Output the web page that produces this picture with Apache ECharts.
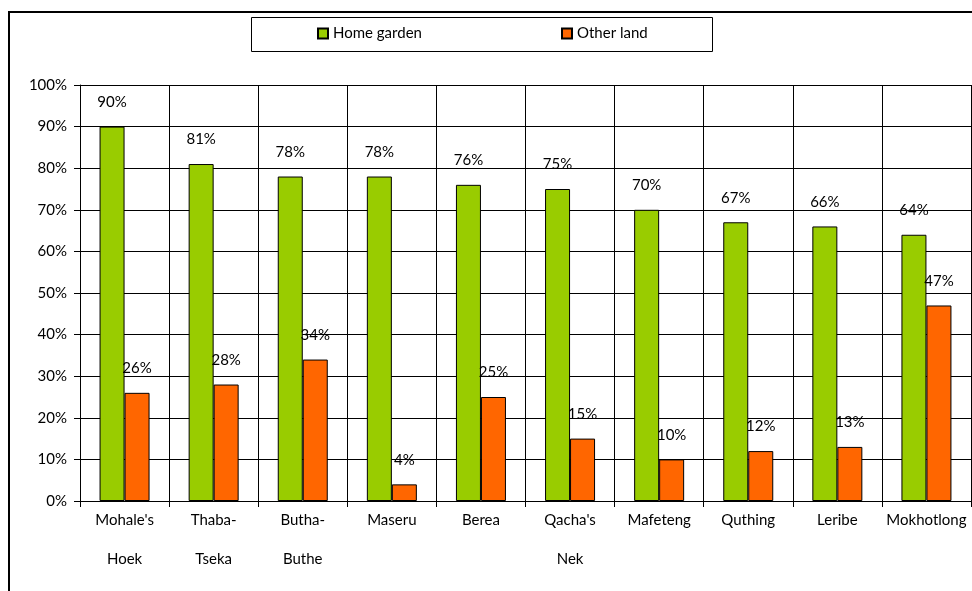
<!DOCTYPE html>
<html>
<head>
<meta charset="utf-8">
<script src="https://cdn.jsdelivr.net/npm/echarts@6/dist/echarts.min.js"></script>
<style>
  html, body { margin: 0; padding: 0; background: #fff; }
  #chart { width: 972px; height: 591px; }
</style>
</head>
<body>
<div id="chart"></div>
<script>
  // districts and shares
  const districts = ["Mohale's\nHoek", 'Thaba-\nTseka', 'Butha-\nButhe', 'Maseru', 'Berea', "Qacha's\nNek", 'Mafeteng', 'Quthing', 'Leribe', 'Mokhotlong']
  const homeGarden = [90, 81, 78, 78, 76, 75, 70, 67, 66, 64]
  const otherLand = [26, 28, 34, 4, 25, 15, 10, 12, 13, 47]
  const yTicks = { min: 0, max: 100, interval: 10 }

  const font = 'Lato, "DejaVu Sans", sans-serif'
  const chart = echarts.init(document.getElementById('chart'))

  const barLabel = {
    show: true,
    position: 'top',
    distance: 17,
    formatter: '{c}%',
    color: '#000',
    fontSize: 15,
    fontFamily: font,
  }

  chart.setOption({
    animation: false,
    textStyle: { fontFamily: font },
    graphic: [
      {
        // outer frame of the chart
        type: 'rect',
        shape: { x: 9, y: 12, width: 1000, height: 620 },
        style: { fill: 'none', stroke: '#000', lineWidth: 2 },
        silent: true,
      },
      {
        // legend box
        type: 'rect',
        shape: { x: 251.5, y: 17.5, width: 461, height: 34 },
        style: { fill: '#fff', stroke: '#000', lineWidth: 1 },
        silent: true,
        z: 1,
      },
    ],
    legend: [
      {
        data: ['Home garden'],
        left: 312,
        top: 21,
        icon: 'rect',
        itemWidth: 10,
        itemHeight: 10,
        itemGap: 6,
        selectedMode: false,
        textStyle: { color: '#000', fontSize: 15, fontFamily: font },
        z: 5,
      },
      {
        data: ['Other land'],
        left: 556,
        top: 21,
        icon: 'rect',
        itemWidth: 10,
        itemHeight: 10,
        selectedMode: false,
        textStyle: { color: '#000', fontSize: 15, fontFamily: font },
        z: 5,
      },
    ],
    grid: {
      left: 80,
      right: 1,
      top: 85,
      bottom: 90,
    },
    xAxis: {
      type: 'category',
      data: districts,
      axisLine: { lineStyle: { color: '#000', width: 1 } },
      axisTick: { show: true, length: 6, interval: 0, lineStyle: { color: '#000' } },
      splitLine: { show: true, interval: 0, lineStyle: { color: '#000', width: 1 } },
      axisLabel: {
        interval: 0,
        margin: 0,
        lineHeight: 39,
        color: '#000',
        fontSize: 15,
        fontFamily: font,
      },
    },
    yAxis: {
      type: 'value',
      min: yTicks.min,
      max: yTicks.max,
      interval: yTicks.interval,
      axisLine: { show: true, lineStyle: { color: '#000' } },
      axisTick: { show: true, length: 6, lineStyle: { color: '#000' } },
      splitLine: { show: true, lineStyle: { color: '#000', width: 1 } },
      axisLabel: {
        formatter: '{value}%',
        margin: 13,
        color: '#000',
        fontSize: 15,
        fontFamily: font,
      },
    },
    series: [
      {
        name: 'Home garden',
        type: 'bar',
        data: homeGarden,
        barWidth: 25,
        barGap: '0%',
        itemStyle: { color: '#99cc00', borderColor: '#000', borderWidth: 1 },
        label: barLabel,
      },
      {
        name: 'Other land',
        type: 'bar',
        data: otherLand,
        barWidth: 25,
        barGap: '0%',
        itemStyle: { color: '#ff6600', borderColor: '#000', borderWidth: 1 },
        label: barLabel,
      },
    ],
  })
</script>
</body>
</html>
